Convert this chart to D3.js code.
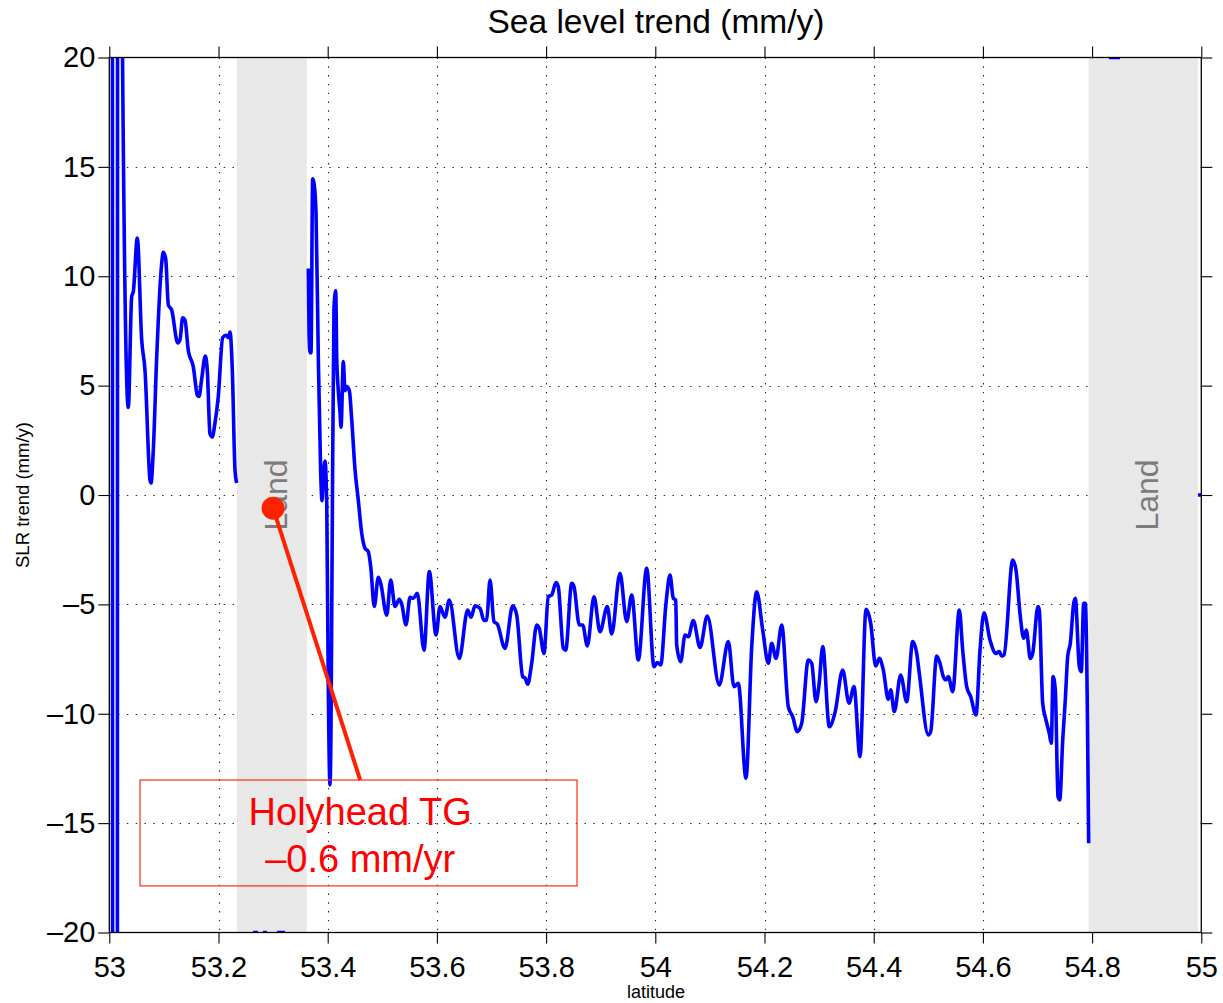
<!DOCTYPE html>
<html>
<head>
<meta charset="utf-8">
<script src="https://cdn.jsdelivr.net/npm/d3@7"></script>
<style>
  html, body { margin: 0; padding: 0; background: #fff; }
  svg { display: block; font-family: "Liberation Sans", Arial, Helvetica, sans-serif; }
</style>
</head>
<body>
<svg id="chart" width="1223" height="1003"></svg>
<script>
// Axis ticks
const xTicks = [53, 53.2, 53.4, 53.6, 53.8, 54, 54.2, 54.4, 54.6, 54.8, 55];
const yTicks = [-20, -15, -10, -5, 0, 5, 10, 15, 20];

// Along-track sea level trend, west of the Holyhead land gap
const latWest = [53.0055, 53.0062, 53.0146, 53.0153, 53.0233, 53.0348, 53.0410, 53.0440, 53.0513,
  53.0593, 53.0654, 53.0745, 53.0764, 53.0806, 53.0868, 53.0960, 53.0989, 53.1033, 53.1081,
  53.1143, 53.1253, 53.1295, 53.1344, 53.1386, 53.1447, 53.1538, 53.1612, 53.1643, 53.1692,
  53.1758, 53.1795, 53.1844, 53.1886, 53.1936, 53.1996, 53.2077, 53.2137, 53.2179, 53.2211,
  53.2253, 53.2302, 53.2333];
const trendWest = [60, -60, -60, 60, 23, 4.0, 9.07, 9.3, 11.75,
  7.1, 5.7, 0.7, 0.55, 2.05, 6.3, 10.6, 11.1, 10.8, 8.7,
  8.45, 6.95, 7.1, 8.1, 8.0, 6.6, 5.87, 4.57, 4.5, 5.3,
  6.35, 5.7, 2.8, 2.65, 3.3, 4.5, 7.2, 7.3, 7.2, 7.45,
  5.7, 1.15, 0.55];

// Along-track sea level trend, east of the land gap up to the coast
const latEast = [53.3645, 53.3658, 53.3676, 53.3694, 53.3725, 53.3749, 53.3786, 53.3828, 53.3872,
  53.3896, 53.3919, 53.3950, 53.3982, 53.4011, 53.4042, 53.4060, 53.4084, 53.4115, 53.4147,
  53.4165, 53.4194, 53.4225, 53.4244, 53.4286, 53.4317, 53.4348, 53.4396, 53.4440, 53.4500,
  53.4560, 53.4623, 53.4683, 53.4744, 53.4788, 53.4853, 53.4927, 53.4971, 53.5081, 53.5154,
  53.5233, 53.5311, 53.5355, 53.5434, 53.5507, 53.5568, 53.5641, 53.5764, 53.5861, 53.5984,
  53.6057, 53.6148, 53.6227, 53.6410, 53.6564, 53.6625, 53.6698, 53.6789, 53.6863, 53.6912,
  53.6973, 53.7046, 53.7106, 53.7247, 53.7388, 53.7462, 53.7571, 53.7619, 53.7663, 53.7736,
  53.7828, 53.7875, 53.7961, 53.8040, 53.8103, 53.8181, 53.8223, 53.8315, 53.8359, 53.8469,
  53.8511, 53.8608, 53.8670, 53.8755, 53.8877, 53.8987, 53.9121, 53.9201, 53.9353, 53.9476,
  53.9568, 53.9689, 53.9842, 53.9976, 54.0037, 54.0099, 54.0196, 54.0269, 54.0330, 54.0374,
  54.0392, 54.0465, 54.0544, 54.0604, 54.0696, 54.0819, 54.0952, 54.1172, 54.1337, 54.1441,
  54.1520, 54.1661, 54.1766, 54.1857, 54.1967, 54.2070, 54.2132, 54.2211, 54.2315, 54.2436,
  54.2516, 54.2601, 54.2681, 54.2802, 54.2864, 54.2943, 54.2998, 54.3066, 54.3187, 54.3291,
  54.3432, 54.3548, 54.3639, 54.3749, 54.3859, 54.3945, 54.4037, 54.4103, 54.4176, 54.4267,
  54.4311, 54.4377, 54.4494, 54.4604, 54.4714, 54.4788, 54.4835, 54.5000, 54.5044, 54.5154,
  54.5214, 54.5275, 54.5324, 54.5366, 54.5447, 54.5568, 54.5630, 54.5703, 54.5777, 54.5874,
  54.5947, 54.6020, 54.6130, 54.6240, 54.6300, 54.6344, 54.6388, 54.6546, 54.6606, 54.6685,
  54.6747, 54.6795, 54.6868, 54.6912, 54.7009, 54.7033, 54.7095, 54.7156, 54.7216, 54.7253,
  54.7284, 54.7326, 54.7376, 54.7407, 54.7462, 54.7509, 54.7553, 54.7601, 54.7663, 54.7692,
  54.7766, 54.7802, 54.7846, 54.7875, 54.7937];
const trendEast = [10.36, 7.42, 6.5, 6.5, 14.45, 14.26, 12.9, 6.3, 0.98,
  -0.26, 0.78, 1.55, -0.35, -8.87, -13.25, -10.8, -1.28, 8.56, 9.33,
  6.3, 4.77, 3.8, 3.1, 6.1, 4.77, 4.96, 4.77, 3.44, 1.17,
  -0.23, -1.75, -2.43, -2.59, -3.28, -5.1, -3.76, -4.04, -5.49, -3.89,
  -5.1, -4.77, -4.98, -5.94, -4.68, -4.72, -4.49, -7.09, -3.5, -6.4,
  -5.1, -5.59, -4.8, -7.47, -5.26, -5.59, -5.07, -5.18, -5.74, -5.71,
  -3.89, -5.79, -5.9, -7.01, -5.07, -5.49, -8.3, -8.38, -8.65, -7.69,
  -5.94, -6.1, -7.24, -4.65, -4.57, -4.0, -4.19, -7.01, -7.09, -4.04,
  -4.19, -5.94, -5.94, -6.9, -4.65, -6.25, -5.1, -6.35, -3.58, -5.79,
  -4.57, -7.54, -3.35, -7.85, -7.66, -7.77, -4.95, -3.66, -4.72, -4.8,
  -6.86, -7.62, -6.4, -6.48, -5.74, -6.97, -5.53, -8.69, -6.7, -8.76,
  -8.61, -12.95, -6.93, -4.42, -6.17, -7.69, -6.78, -7.47, -5.94, -9.68,
  -10.13, -10.82, -10.44, -7.54, -7.69, -9.45, -8.69, -6.93, -10.59, -9.95,
  -8.0, -9.52, -8.76, -11.96, -5.23, -5.87, -7.82, -7.47, -8.0, -9.34,
  -8.91, -9.9, -8.23, -9.45, -6.7, -7.24, -8.15, -10.97, -10.82, -7.36,
  -7.69, -8.3, -8.46, -8.3, -8.99, -5.26, -7.09, -8.76, -9.22, -10.06,
  -7.09, -5.38, -6.63, -7.24, -7.16, -7.36, -7.3, -2.97, -3.43, -5.56,
  -6.55, -6.17, -7.47, -7.24, -5.1, -5.26, -9.52, -10.29, -10.9, -11.35,
  -8.3, -8.91, -13.79, -13.94, -11.2, -9.37, -7.39, -6.78, -4.95, -4.72,
  -7.85, -8.08, -4.95, -4.95, -15.92];

// Isolated samples at the edges of the plotting range (null = gap)
const latEdge = [53.2632, 53.2723, null, 53.2815, 53.2888, null, 53.3071, 53.3218, null,
  54.8311, 54.8513, null, 54.9939, 55.0];
const trendEdge = [-20, -20, null, -20, -20, null, -20, -20, null,
  20, 20, null, 0, 0];

// Land along the track
const landStart = [53.2336, 54.7935];
const landEnd = [53.3618, 54.994];
const landLabel = "Land";

// Holyhead tide gauge
const gaugeLat = 53.3;
const gaugeTrend = -0.6;
const gaugeText = ["Holyhead TG", "\u20130.6 mm/yr"];

const W = 1223, H = 1003;
const plot = { left: 109.3, right: 1201.3, top: 57.5, bottom: 932.5 };

const svg = d3.select("#chart");
const x = d3.scaleLinear().domain([53, 55]).range([plot.left, plot.right]);
const y = d3.scaleLinear().domain([-20, 20]).range([plot.bottom, plot.top]);

const fmtY = d => d < 0 ? "\u2013" + Math.abs(d) : String(d);
const fmtX = d => String(+d.toFixed(1));

// Dotted grid
const grid = svg.append("g").attr("stroke", "#222").attr("stroke-width", 1.1)
  .attr("stroke-dasharray", "1.4,7.4");
grid.selectAll("line.gx").data(xTicks.slice(1, -1)).join("line")
  .attr("class", "gx")
  .attr("x1", d => Math.round(x(d)) + 0.5).attr("x2", d => Math.round(x(d)) + 0.5)
  .attr("y1", plot.top).attr("y2", plot.bottom);
grid.selectAll("line.gy").data(yTicks.slice(1, -1)).join("line")
  .attr("class", "gy")
  .attr("y1", d => Math.round(y(d)) + 0.5).attr("y2", d => Math.round(y(d)) + 0.5)
  .attr("x1", plot.left).attr("x2", plot.right);

// Land bands
const land = landStart.map((s, i) => [s, landEnd[i]]);
svg.append("g").selectAll("rect").data(land).join("rect")
  .attr("x", d => x(d[0])).attr("width", d => x(d[1]) - x(d[0]))
  .attr("y", plot.top + 1).attr("height", plot.bottom - plot.top - 1)
  .attr("fill", "#e8e8e8");

svg.append("g").selectAll("text").data(land).join("text")
  .attr("transform", d => `translate(${x((d[0] + d[1]) / 2) + 15},${y(0)}) rotate(-90)`)
  .attr("text-anchor", "middle")
  .attr("font-size", 32)
  .attr("fill", "#7c7c7c")
  .text(landLabel);

// Trend line
svg.append("clipPath").attr("id", "plotClip").append("rect")
  .attr("x", plot.left).attr("y", plot.top)
  .attr("width", plot.right - plot.left).attr("height", plot.bottom - plot.top);

const line = d3.line()
  .defined(d => d[0] != null && d[1] != null)
  .x(d => x(d[0])).y(d => y(d[1]))
  .curve(d3.curveMonotoneX);

const series = [
  latWest.map((v, i) => [v, trendWest[i]]),
  latEast.map((v, i) => [v, trendEast[i]]),
  latEdge.map((v, i) => [v, trendEdge[i]])
];
svg.append("g").attr("clip-path", "url(#plotClip)")
  .selectAll("path").data(series).join("path")
  .attr("d", line)
  .attr("fill", "none")
  .attr("stroke", "#0000ff")
  .attr("stroke-width", 3.6)
  .attr("stroke-linejoin", "round");

// Axes (ticks out on all four sides)
function styleAxis(g) {
  g.selectAll(".tick line").attr("stroke", "#000").attr("stroke-width", 1.1);
  g.selectAll(".tick text").attr("fill", "#000").attr("font-size", 29)
    .attr("font-family", "'Liberation Sans', Arial, Helvetica, sans-serif");
  g.select(".domain").remove();
}
svg.append("g").attr("transform", `translate(0,${plot.bottom})`)
  .call(d3.axisBottom(x).tickValues(xTicks).tickFormat(fmtX).tickSize(11).tickPadding(13))
  .call(styleAxis);
svg.append("g").attr("transform", `translate(0,${plot.top})`)
  .call(d3.axisTop(x).tickValues(xTicks).tickFormat("").tickSize(11))
  .call(styleAxis);
svg.append("g").attr("transform", `translate(${plot.left},0)`)
  .call(d3.axisLeft(y).tickValues(yTicks).tickFormat(fmtY).tickSize(11).tickPadding(3))
  .call(styleAxis);
svg.append("g").attr("transform", `translate(${plot.right},0)`)
  .call(d3.axisRight(y).tickValues(yTicks).tickFormat("").tickSize(11))
  .call(styleAxis);

svg.append("rect")
  .attr("x", plot.left).attr("y", plot.top)
  .attr("width", plot.right - plot.left).attr("height", plot.bottom - plot.top)
  .attr("fill", "none").attr("stroke", "#000").attr("stroke-width", 1.3);

// Tide gauge annotation
const boxX0 = x(53.0563), boxX1 = x(53.8566);
const boxY0 = y(-13.03), boxY1 = y(-17.87);
const anchorX = x(53.4595);
const ann = svg.append("g");
ann.append("rect")
  .attr("x", boxX0).attr("y", boxY0)
  .attr("width", boxX1 - boxX0).attr("height", boxY1 - boxY0)
  .attr("fill", "none").attr("stroke", "#ff2a1a").attr("stroke-width", 1.2);
ann.append("line")
  .attr("x1", x(gaugeLat)).attr("y1", y(gaugeTrend))
  .attr("x2", anchorX).attr("y2", boxY0)
  .attr("stroke", "#ff2200").attr("stroke-width", 4);
ann.append("circle")
  .attr("cx", x(gaugeLat)).attr("cy", y(gaugeTrend)).attr("r", 11.5)
  .attr("fill", "#ff2200");
ann.selectAll("text").data(gaugeText).join("text")
  .attr("x", anchorX)
  .attr("y", (d, i) => boxY0 + 45 + i * 47)
  .attr("text-anchor", "middle")
  .attr("font-size", 38)
  .attr("fill", "#ff0000")
  .text(d => d);

// Titles
svg.append("text").attr("x", 656).attr("y", 33).attr("text-anchor", "middle")
  .attr("font-size", 33.5).attr("fill", "#000").text("Sea level trend (mm/y)");
svg.append("text").attr("x", 656).attr("y", 998).attr("text-anchor", "middle")
  .attr("font-size", 18).attr("fill", "#000").text("latitude");
svg.append("text").attr("transform", `translate(29,${y(0)}) rotate(-90)`)
  .attr("text-anchor", "middle")
  .attr("font-size", 18.5).attr("fill", "#000").text("SLR trend (mm/y)");
</script>
</body>
</html>
